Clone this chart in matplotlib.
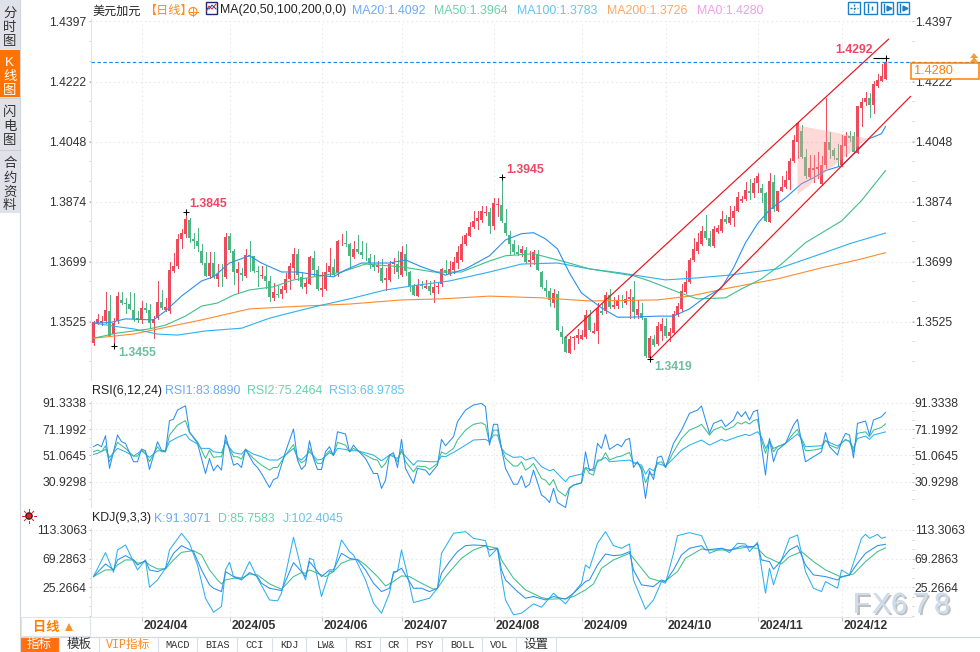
import numpy as np
import matplotlib
matplotlib.use("Agg")
import matplotlib.pyplot as plt
import matplotlib.patheffects as pe
from matplotlib.patches import Rectangle, Polygon, Circle
from matplotlib.transforms import ScaledTranslation

FONT = ['Liberation Sans', 'Noto Sans CJK SC', 'DejaVu Sans']
plt.rcParams['font.family'] = FONT

# ---------- candles (prices x 10^4, one entry per trading day) ----------
opens = [
 13465,13523,13522,13528,13557,13489,13528,13589,13581,13578,
 13560,13536,13535,13565,13560,13523,13538,13583,13561,13557,
 13673,13686,13767,13780,13822,13767,13761,13732,13695,13658,
 13697,13651,13658,13656,13773,13732,13668,13668,13659,13718,
 13716,13672,13659,13659,13644,13596,13606,13607,13618,13650,
 13682,13723,13656,13627,13636,13711,13676,13618,13621,13670,
 13685,13668,13750,13755,13752,13714,13737,13728,13717,13711,
 13693,13685,13682,13647,13647,13693,13693,13661,13723,13670,
 13629,13600,13632,13624,13629,13609,13627,13636,13676,13664,
 13675,13696,13705,13752,13775,13801,13818,13821,13841,13845,
 13804,13865,13865,13813,13778,13752,13728,13725,13734,13699,
 13705,13723,13670,13624,13615,13580,13606,13496,13481,13435,
 13478,13478,13476,13481,13545,13494,13498,13557,13557,13603,
 13568,13571,13584,13579,13591,13598,13545,13550,13536,13421,
 13477,13460,13499,13512,13484,13493,13545,13562,13613,13641,
 13704,13731,13751,13789,13768,13745,13786,13789,13823,13813,
 13826,13848,13875,13881,13906,13898,13927,13914,13898,13816,
 13930,13848,13906,13917,13938,13993,14048,14080,14004,13946,
 13967,13969,13926,13981,14048,14024,14002,13981,14034,14063,
 14063,14016,14145,14164,14176,14153,14208,14225,14231]
closes = [
 13526,13534,13528,13560,13485,13523,13601,13581,13576,13564,
 13533,13530,13565,13559,13523,13533,13583,13567,13569,13675,
 13686,13767,13783,13825,13770,13761,13744,13695,13659,13697,
 13656,13663,13657,13772,13734,13671,13679,13660,13720,13716,
 13672,13669,13660,13644,13598,13613,13603,13621,13650,13688,
 13723,13661,13627,13639,13714,13676,13621,13624,13670,13688,
 13662,13760,13752,13752,13717,13737,13728,13720,13715,13696,
 13685,13690,13644,13653,13693,13699,13670,13728,13673,13629,
 13603,13632,13630,13629,13615,13627,13629,13679,13668,13679,
 13700,13728,13752,13778,13801,13818,13827,13848,13844,13804,
 13871,13868,13818,13784,13752,13728,13722,13737,13699,13705,
 13728,13676,13627,13615,13589,13609,13502,13481,13438,13475,
 13481,13487,13487,13545,13501,13499,13566,13551,13603,13568,
 13574,13586,13582,13591,13598,13555,13562,13536,13426,13479,
 13458,13513,13520,13484,13495,13547,13571,13615,13641,13704,
 13736,13756,13789,13768,13746,13796,13797,13823,13814,13830,
 13848,13888,13881,13909,13900,13929,13949,13898,13818,13935,
 13852,13906,13917,13938,13993,14054,14102,14004,13949,13971,
 13973,13975,13981,14048,14025,14007,13995,14039,14063,14059,
 14017,14150,14164,14176,14153,14214,14228,14237,14280]
highs = [
 13528,13548,13543,13611,13603,13538,13613,13611,13596,13611,
 13609,13557,13586,13581,13577,13543,13644,13617,13596,13700,
 13724,13780,13795,13845,13826,13782,13799,13751,13727,13727,
 13727,13693,13693,13782,13782,13738,13698,13683,13736,13761,
 13717,13688,13688,13688,13659,13639,13630,13630,13668,13695,
 13740,13736,13668,13654,13717,13731,13688,13670,13696,13740,
 13708,13763,13781,13789,13755,13760,13778,13760,13755,13722,
 13720,13702,13708,13683,13702,13711,13731,13746,13752,13673,
 13636,13649,13644,13648,13644,13646,13639,13681,13705,13702,
 13714,13746,13773,13784,13814,13848,13848,13862,13862,13855,
 13884,13884,13945,13853,13789,13763,13749,13745,13743,13731,
 13733,13733,13673,13646,13623,13620,13615,13513,13482,13484,
 13484,13506,13501,13559,13559,13523,13579,13576,13613,13620,
 13598,13603,13603,13615,13620,13644,13588,13581,13537,13484,
 13487,13526,13537,13537,13508,13557,13581,13634,13673,13712,
 13770,13783,13804,13836,13789,13804,13807,13848,13836,13862,
 13862,13901,13891,13930,13940,13943,13956,13925,13901,13957,
 13952,13906,13949,13964,14002,14066,14106,14095,14027,14010,
 14010,14017,14005,14174,14077,14030,14041,14066,14075,14080,
 14075,14151,14174,14191,14190,14223,14243,14272,14292]
lows = [
 13458,13518,13517,13523,13485,13455,13523,13577,13552,13562,
 13528,13526,13523,13555,13509,13478,13533,13562,13557,13552,
 13669,13683,13741,13772,13758,13741,13732,13693,13659,13652,
 13652,13630,13630,13652,13727,13635,13608,13647,13656,13673,
 13669,13630,13654,13625,13586,13589,13598,13596,13613,13620,
 13654,13646,13625,13610,13634,13661,13618,13600,13618,13661,
 13661,13659,13749,13746,13683,13710,13726,13710,13704,13683,
 13677,13671,13642,13617,13644,13668,13654,13659,13661,13615,
 13602,13600,13623,13623,13605,13584,13610,13629,13663,13661,
 13668,13683,13702,13749,13773,13797,13794,13814,13836,13784,
 13794,13833,13814,13778,13720,13722,13720,13717,13697,13688,
 13693,13675,13625,13600,13571,13568,13501,13463,13437,13435,
 13447,13465,13475,13479,13499,13494,13463,13547,13552,13566,
 13565,13566,13568,13576,13537,13536,13537,13533,13424,13419,
 13455,13458,13472,13481,13470,13491,13542,13557,13610,13638,
 13702,13726,13749,13765,13746,13743,13784,13787,13812,13809,
 13804,13846,13872,13880,13881,13888,13901,13874,13818,13816,
 13848,13848,13904,13915,13911,13990,14002,14002,13944,13944,
 13930,13944,13923,13973,14002,13998,13978,13978,14007,14051,
 14014,14014,14092,14153,14119,14130,14206,14223,14230]

# ---------- moving averages (day index, price x 10^4) ----------
ma20_day = [0,4,8,15,18,22,27,30,34,39,42,47,51,56,60,63,67,74,78,82,85,88,93,99,103,107,110,113,116,119,122,127,131,134,141,145,149,152,157,160,163,166,169,173,177,180,183,187,191,194,197,198]
ma20_val = [13522,13523,13534,13531,13557,13600,13644,13656,13696,13717,13696,13670,13670,13661,13656,13676,13696,13696,13705,13685,13673,13661,13679,13717,13763,13781,13784,13766,13737,13667,13609,13566,13539,13539,13542,13542,13563,13589,13624,13682,13755,13810,13850,13885,13926,13943,13964,13978,14022,14057,14071,14092]
ma50_day = [0,6,14,18,23,27,31,35,39,45,50,57,62,68,77,85,92,99,103,110,118,124,135,139,146,151,158,162,167,172,178,187,192,198]
ma50_val = [13478,13493,13505,13516,13542,13571,13580,13603,13618,13627,13647,13659,13670,13693,13685,13670,13670,13702,13717,13723,13699,13679,13659,13644,13612,13592,13595,13621,13650,13693,13755,13818,13877,13964]
ma100_day = [0,5,10,16,21,28,37,44,49,56,64,73,81,89,99,107,116,124,132,143,151,159,171,182,189,198]
ma100_val = [13522,13513,13505,13490,13487,13499,13507,13536,13551,13571,13592,13618,13632,13644,13670,13693,13696,13679,13667,13647,13653,13661,13679,13723,13752,13783]
ma200_day = [0,10,17,27,39,52,64,77,87,99,112,124,141,149,159,171,182,191,198]
ma200_val = [13478,13490,13507,13531,13563,13571,13577,13589,13592,13600,13595,13586,13589,13600,13624,13650,13682,13705,13726]

# ---------- RSI ----------
rsi1_day = [0,1,2,3,4,6,7,8,10,11,12,13,14,16,17,18,19,20,21,23,24,26,27,28,29,30,31,32,33,35,36,37,38,40,41,42,44,45,46,48,50,51,52,53,54,55,56,57,58,59,60,61,63,64,65,66,68,70,71,72,73,74,75,76,77,78,80,81,83,84,86,87,88,90,91,93,95,97,98,99,
 100,101,102,103,105,106,107,108,109,110,112,113,114,115,116,118,119,120,122,123,124,125,126,127,128,129,131,132,133,134,135,136,137,138,139,140,141,142,143,145,147,149,151,152,154,155,157,158,160,161,162,163,164,165,166,167,168,169,170,171,173,175,176,177,178,180,182,183,184,186,187,188,189,190,191,193,194,195,197,198]
rsi1_val = [57.7,59.5,57.7,66.1,41.1,66.6,61.5,60.2,46.2,46.2,55.9,54.6,40.3,61.5,55.1,53.8,77.6,78.6,85.7,89.0,69.1,60.2,48.7,37.2,48.7,39.3,43.6,39.8,66.6,43.6,44.9,41.8,55.9,44.9,41.8,37.2,26.5,32.6,33.9,53.8,71.2,47.5,40.3,43.6,62.3,48.7,40.3,40.3,53.8,57.7,50.8,69.1,67.4,53.8,58.9,55.1,48.7,37.2,37.2,25.8,32.1,51.3,53.1,41.8,63.3,41.1,29.6,41.1,39.8,36.0,43.6,63.3,58.4,65.3,76.8,85.7,89.6,90.8,88.3,58.9,
 74.8,74.8,56.4,41.1,29.0,29.0,35.5,26.5,29.0,39.8,20.7,18.6,15.0,25.8,15.0,11.2,25.8,28.3,30.1,53.8,39.3,41.1,60.2,56.4,67.1,55.6,59.7,57.7,62.8,64.0,41.8,46.2,39.8,18.1,39.3,32.6,49.5,50.5,41.8,60.2,70.4,83.2,85.7,88.8,67.9,75.5,78.1,73.0,78.1,84.5,80.6,84.5,78.1,84.5,85.7,57.7,36.0,64.0,46.2,55.1,60.2,74.2,78.6,61.5,46.2,50.0,53.8,68.6,57.7,51.3,61.5,67.9,66.6,49.2,75.5,77.3,66.6,78.1,80.6,83.9]
rsi2_day = [0,1,2,3,4,6,8,10,11,12,13,14,16,17,18,19,20,21,23,24,26,27,28,29,30,31,32,33,35,36,37,38,40,41,42,44,45,46,48,50,51,52,53,54,55,56,57,58,59,60,61,63,64,65,66,68,70,71,72,73,74,75,76,77,78,80,81,83,84,86,87,88,90,91,93,95,97,98,99,
 100,101,102,103,105,106,107,108,109,110,112,113,114,115,116,118,119,120,122,123,124,125,126,127,128,129,131,132,133,134,135,136,137,138,139,140,141,142,143,145,147,149,151,152,154,155,157,158,160,161,162,163,164,165,166,167,168,169,170,171,173,175,176,177,178,180,182,183,184,186,187,188,189,190,191,193,194,195,197,198]
rsi2_val = [53.8,55.1,53.8,58.4,46.2,61.0,56.4,50.5,50.5,55.1,53.1,46.2,57.7,53.8,53.8,66.6,70.4,74.2,77.6,68.4,61.5,55.1,48.7,55.1,49.5,50.0,50.0,62.8,50.0,50.0,48.2,55.1,48.7,46.2,43.6,39.8,41.8,41.8,51.3,59.4,48.7,45.4,47.5,56.4,49.5,44.9,44.9,51.3,54.6,51.3,61.0,58.9,53.8,56.4,54.6,51.3,48.0,47.5,41.6,44.9,51.3,51.3,46.2,55.6,46.2,38.5,42.9,42.4,40.3,44.9,53.8,52.0,56.4,62.8,70.4,74.8,76.0,74.2,60.7,
 70.4,70.4,56.4,48.7,42.9,42.9,46.2,39.8,41.8,44.9,33.4,32.1,28.3,32.6,24.5,19.9,26.5,28.3,30.1,41.8,37.2,36.0,47.5,47.5,53.1,47.5,50.0,50.5,52.0,53.3,44.9,45.4,41.8,30.1,37.2,36.0,45.4,46.2,41.8,53.8,64.0,70.4,73.0,74.8,66.6,70.4,73.0,70.4,73.0,76.3,75.0,76.8,75.0,77.6,78.6,62.8,52.6,62.8,53.8,57.7,60.2,67.9,70.9,62.8,54.6,55.1,56.4,62.8,58.9,56.4,60.2,63.3,61.5,53.8,67.9,69.1,65.3,70.4,72.5,75.2]
rsi3_day = [0,1,3,4,6,8,10,12,14,16,18,19,21,23,24,26,27,29,30,32,33,35,37,38,40,42,44,46,48,50,51,52,54,56,57,59,60,61,63,64,66,70,72,74,76,77,80,81,84,86,87,88,91,93,95,98,99,
 100,101,102,103,105,107,108,110,112,114,115,118,119,122,123,125,126,128,129,134,135,137,138,139,140,141,143,145,147,149,152,154,157,158,161,163,164,166,167,168,169,170,173,176,177,178,182,183,186,188,189,190,191,193,194,195,198]
rsi3_val = [51.8,52.6,55.6,49.5,56.4,53.8,50.5,54.6,49.5,54.6,54.6,61.5,64.8,67.4,63.3,59.7,56.4,56.4,53.8,53.1,61.0,53.1,52.0,55.6,52.0,50.0,47.5,47.5,51.3,56.4,49.5,47.5,53.8,47.5,48.0,53.1,51.3,56.4,55.6,54.6,54.6,51.3,46.9,51.3,48.7,53.8,43.6,46.9,46.2,46.2,50.5,50.0,55.1,58.9,62.8,63.3,61.5,
 66.6,66.6,56.4,52.6,49.5,50.0,47.5,49.5,42.4,39.3,40.3,30.9,34.7,36.7,41.8,39.3,46.2,49.5,46.2,47.5,45.7,43.6,36.7,41.1,39.3,44.9,42.9,48.7,55.1,58.9,62.8,58.9,63.3,62.0,65.3,67.1,66.1,69.1,65.3,56.4,61.5,56.4,60.2,67.4,64.0,57.7,58.4,62.3,58.2,62.8,62.0,56.4,64.0,65.8,63.3,66.6,69.0]

# ---------- KDJ ----------
k_day = [0,3,5,6,8,10,11,13,14,16,18,20,22,25,27,29,30,32,33,35,37,39,41,42,44,47,50,52,53,54,55,57,59,60,62,64,66,68,70,72,74,75,77,80,82,84,86,87,89,91,93,95,98,99,
 101,102,103,106,108,110,113,115,118,120,123,124,126,128,130,132,134,135,137,140,142,143,145,147,149,152,153,157,159,162,165,166,167,169,170,171,174,176,178,180,183,186,187,189,191,193,196,198]
k_val = [41.7,61.2,52.0,67.3,73.9,67.3,59.6,66.3,52.0,49.4,54.5,77.5,89.3,80.1,52.0,29.0,23.8,18.7,49.4,41.7,36.6,47.9,41.7,31.5,23.8,20.3,63.2,49.4,41.7,64.7,57.1,41.7,52.0,52.0,77.5,69.9,67.3,52.0,31.5,18.7,23.8,46.8,54.5,23.8,23.8,18.7,23.8,46.8,64.7,80.1,89.3,90.3,89.3,82.6,
 85.2,52.0,36.6,18.7,8.5,11.1,5.9,11.1,7.0,16.2,34.1,36.6,59.6,76.5,73.9,75.0,80.1,52.0,29.0,26.4,36.6,34.1,52.0,75.0,85.2,89.3,82.6,85.2,81.6,88.8,87.8,91.8,67.3,64.7,53.0,59.6,82.6,89.3,59.6,44.3,41.7,36.6,41.7,44.3,62.2,77.5,89.3,91.3]
d_day = [0,3,5,6,8,10,11,13,14,16,18,20,22,25,27,29,31,32,33,35,37,39,41,44,47,50,52,53,54,55,58,60,62,64,66,68,71,73,75,77,79,82,85,86,88,92,95,98,99,
 101,102,105,108,112,114,118,120,123,125,127,130,134,136,139,142,143,146,148,152,154,159,163,166,168,172,174,177,180,183,187,190,193,196,198]
d_val = [41.7,52.0,52.0,59.6,67.3,67.3,62.2,64.7,59.6,53.5,53.5,67.3,79.0,81.6,75.0,52.0,36.6,30.5,36.6,39.2,39.2,45.8,44.3,30.5,22.3,41.7,47.9,46.8,52.0,49.4,41.7,49.4,62.2,67.3,68.3,59.6,41.7,27.4,34.1,42.8,41.7,31.5,22.3,23.8,41.7,69.9,82.6,89.3,87.8,
 85.2,67.3,39.2,21.3,9.5,7.0,8.0,11.1,21.3,30.5,54.5,67.3,77.5,62.2,39.2,34.1,35.1,49.4,69.9,84.2,82.6,82.6,86.7,85.2,72.4,61.2,72.4,80.1,64.7,52.0,40.7,45.8,64.7,80.1,85.8]
j_day = [0,3,5,6,8,10,11,13,14,16,18,19,22,24,26,28,30,32,33,34,35,37,39,41,44,46,47,50,52,53,54,55,57,59,60,62,64,65,68,70,72,74,75,76,77,78,80,84,86,87,90,93,95,98,99,
 101,102,103,105,107,110,112,115,118,120,122,123,124,126,128,130,132,134,135,138,140,142,143,145,146,149,152,154,157,159,161,163,164,166,168,169,170,172,174,176,178,180,182,183,186,187,189,192,193,194,196,197,198]
j_val = [41.7,78.6,48.4,82.6,90.3,64.7,52.0,67.3,25.4,36.6,54.5,82.6,108.2,92.9,59.6,8.5,-13.0,-4.3,52.0,63.7,41.7,39.2,64.7,39.2,5.9,4.4,16.2,102.1,52.0,36.6,69.9,67.3,11.1,49.4,49.4,98.0,80.1,75.0,36.6,0.8,-14.5,16.2,49.4,49.4,82.6,57.1,1.8,8.5,23.8,77.5,108.2,110.8,100.5,97.0,72.4,
 85.2,41.7,5.9,-17.0,-14.5,-0.2,-5.3,16.2,-0.2,16.2,31.5,59.6,54.5,92.9,110.8,89.3,85.2,91.8,36.6,-8.4,5.9,34.1,31.5,77.5,104.6,109.2,104.6,77.5,85.2,78.6,92.9,91.8,80.1,94.4,16.2,54.5,29.0,67.3,100.5,105.6,49.4,23.8,18.7,34.1,23.8,52.0,44.3,100.5,106.6,100.5,106.6,100.5,102.4]

# ---------- axes labels ----------
price_ticks = [1.4397, 1.4222, 1.4048, 1.3874, 1.3699, 1.3525]
rsi_ticks = [91.3338, 71.1992, 51.0645, 30.9298]
kdj_ticks = [113.3063, 69.2863, 25.2664]
month_days = [12, 34, 57, 77, 100, 122, 143, 166, 187]
month_labels = ['2024/04','2024/05','2024/06','2024/07','2024/08','2024/09','2024/10','2024/11','2024/12']
last_close = 1.4280

# extreme price marks: day, price, label, colour, offset
extremes = [(5, 1.3455, '1.3455', '#6dbe9b', (5, -7), 'left'),
            (23, 1.3845, '1.3845', '#ee4663', (4, 8), 'left'),
            (102, 1.3945, '1.3945', '#ee4663', (5, 7), 'left'),
            (139, 1.3419, '1.3419', '#6dbe9b', (5, -8), 'left'),
            (198, 1.4292, '1.4292', '#ee4663', (-13, 8), 'right')]

# channel and triangle drawn on the chart (day, price)
chan_top_day, chan_top_price = [118, 198.75], [1.3481, 1.4345]
chan_bot_day, chan_bot_price = [139.25, 204.25], [1.3419, 1.4179]
tri_day, tri_price = [176, 193.5, 176], [1.4095, 1.4057, 1.3894]

RED, GREEN = '#ee4a5c', '#4cb785'
C_MA20, C_MA50, C_MA100, C_MA200 = '#2b8ff0', '#3fbf8a', '#2cb0ee', '#ff8a30'
C_TXT = '#333333'
GRID = '#e9e9e9'

W, H = 980, 652
fig = plt.figure(figsize=(W/100, H/100), dpi=100, facecolor='white')

def px_axes(l, t, r, b, **kw):
    return fig.add_axes([l/W, 1-b/H, (r-l)/W, (b-t)/H], **kw)

L, R = 91, 912
X0, PX = 93.5, 4.0
xlim = ((L-X0)/PX, (R-X0)/PX)

def style(ax, ticks, labels, minor_step):
    ax.set_xlim(*xlim)
    ax.set_facecolor('white')
    for s in ax.spines.values():
        s.set_visible(False)
    lo, hi = ax.get_ylim()
    ax.spines['left'].set_visible(True)
    ax.spines['left'].set_color('#e3e3e3')
    ax.spines['left'].set_linewidth(0.8)
    ax.spines['left'].set_bounds(lo, ticks[0] + (hi-ticks[0])*0.1)
    ax.set_xticks([])
    ax.set_yticks(ticks)
    ax.set_yticklabels(labels)
    ax.tick_params(axis='y', which='major', left=True, right=True, labelleft=True, labelright=True,
                   length=1.6, width=0.7, color='#b8b8b8', pad=0.4, labelsize=8.8, labelcolor=C_TXT)
    for tk in ax.yaxis.get_major_ticks():
        tk.label1.set_transform(tk.label1.get_transform() + ScaledTranslation(-1.2/72, 0, fig.dpi_scale_trans))
    m = np.arange(ticks[0], lo, -minor_step)
    ax.set_yticks(m, minor=True)
    ax.tick_params(axis='y', which='minor', left=True, right=True, length=1.1, width=0.7, color='#cfcfcf')
    ax.hlines(ticks, xlim[0], xlim[1], colors=GRID, linewidth=0.8, linestyles=(0, (1.5, 2.5)), zorder=0)

# ---------- price panel ----------
P_TOP, P_BOT = 0, 381
scale = 0.0174 / 60.0
Y0 = 21.3
ax = px_axes(L, P_TOP, R, P_BOT)
ax.set_ylim(1.4397 - (P_BOT-Y0)*scale, 1.4397 + (Y0-P_TOP)*scale)
style(ax, price_ticks, [f'{v:.4f}' for v in price_ticks], 0.0174/3)
ax.vlines(month_days, ax.get_ylim()[0], 1.4397, colors=GRID, linewidth=0.8, linestyles=(0, (1.5, 2.5)), zorder=0)

o, c, h, l = [np.array(a)/1e4 for a in (opens, closes, highs, lows)]
days = np.arange(len(o))
up = c >= o
colors = np.where(up, RED, GREEN)
ax.vlines(days, l, h, colors=list(colors), linewidth=0.72, zorder=2, antialiased=False)
body_low = np.minimum(o, c)
body_h = np.maximum(np.abs(c-o), 0.00015)
ax.bar(days, body_h, bottom=body_low, width=0.8, color=list(colors), linewidth=0, zorder=3)

for d, v, col in ((ma200_day, ma200_val, C_MA200), (ma100_day, ma100_val, C_MA100),
                  (ma50_day, ma50_val, C_MA50), (ma20_day, ma20_val, C_MA20)):
    ax.plot(d, np.array(v)/1e4, color=col, linewidth=0.8, zorder=4)

ax.plot(chan_top_day, chan_top_price, color='#e8141c', linewidth=0.85, zorder=5)
ax.plot(chan_bot_day, chan_bot_price, color='#e8141c', linewidth=0.85, zorder=5)
ax.add_patch(Polygon(np.column_stack([tri_day, tri_price]), closed=True, facecolor='#ff9a9a',
                     alpha=0.38, edgecolor='none', zorder=6))

axis_end = (W - X0) / PX
ax.plot([xlim[0], axis_end], [last_close, last_close], color='#1e88f0', linewidth=0.85,
        linestyle=(0, (3, 2)), clip_on=False, zorder=7)

for d, v, txt, col, off, ha in extremes:
    ax.plot([d], [v], marker='+', color='black', markersize=5, markeredgewidth=0.75, zorder=8)
    ax.annotate(txt, (d, v), xytext=off, textcoords='offset pixels', color=col, fontsize=8.8,
                fontweight='bold', ha=ha, va='center', zorder=8)
ax.hlines(extremes[-1][1], extremes[-1][0]-3.2, extremes[-1][0], colors='black', linewidth=0.8, zorder=8)

# ---------- RSI panel ----------
axr = px_axes(L, 381, R, 508)
rs = (rsi_ticks[0]-rsi_ticks[3]) / (481.7-402.7)
axr.set_ylim(rsi_ticks[0] - (508-402.7)*rs, rsi_ticks[0] + (402.7-381)*rs)
style(axr, rsi_ticks, [f'{v:.4f}' for v in rsi_ticks], (rsi_ticks[0]-rsi_ticks[1])/3)
axr.vlines(month_days, axr.get_ylim()[0], rsi_ticks[0], colors=GRID, linewidth=0.8, linestyles=(0, (1.5, 2.5)), zorder=0)
axr.plot(rsi3_day, rsi3_val, color=C_MA100, linewidth=0.75, zorder=3)
axr.plot(rsi2_day, rsi2_val, color=C_MA50, linewidth=0.75, zorder=4)
axr.plot(rsi1_day, rsi1_val, color=C_MA20, linewidth=0.75, zorder=5)

# ---------- KDJ panel ----------
axk = px_axes(L, 508, R, 617)
ks = (kdj_ticks[0]-kdj_ticks[2]) / (587.3-530.0)
axk.set_ylim(kdj_ticks[0] - (617-530)*ks, kdj_ticks[0] + (530-508)*ks)
style(axk, kdj_ticks, [f'{v:.4f}' for v in kdj_ticks], (kdj_ticks[0]-kdj_ticks[1])/3)
axk.vlines(month_days, axk.get_ylim()[0], kdj_ticks[0], colors=GRID, linewidth=0.8, linestyles=(0, (1.5, 2.5)), zorder=0)
axk.plot(j_day, j_val, color=C_MA100, linewidth=0.75, zorder=3)
axk.plot(d_day, d_val, color=C_MA50, linewidth=0.75, zorder=4)
axk.plot(k_day, k_val, color=C_MA20, linewidth=0.75, zorder=5)

# ---------- date axis ----------
axd = px_axes(L, 617, R, 636)
axd.set_xlim(*xlim); axd.set_ylim(1, 0)
axd.set_yticks([]); axd.set_xticks(month_days); axd.set_xticklabels([])
for s in axd.spines.values():
    s.set_visible(False)
axd.spines['top'].set_visible(True); axd.spines['top'].set_color('#e4e8ee'); axd.spines['top'].set_linewidth(0.8)
axd.xaxis.tick_top()
axd.tick_params(axis='x', direction='in', length=3, width=0.7, color='#bcbcbc', top=True, bottom=False)
for d, t in zip(month_days, month_labels):
    axd.annotate(t, (d, 0.45), xytext=(2, 0), textcoords='offset pixels', color='#333333', fontsize=8.8,
                 fontweight='bold', ha='left', va='center')

# ---------- overlay: window furniture, header texts ----------
ui = fig.add_axes([0, 0, 1, 1], facecolor='none', zorder=10)
ui.set_xlim(0, W); ui.set_ylim(H, 0); ui.axis('off')

def T(x, y, s, color='#222222', size=8.8, ha='left', va='center', **kw):
    return ui.text(x, y, s, color=color, fontsize=size, ha=ha, va=va, **kw)

def R_(x, y, w, h, fc='none', ec='none', lw=0.8, **kw):
    ui.add_patch(Rectangle((x, y), w, h, facecolor=fc, edgecolor=ec, linewidth=lw, **kw))

# side bar
R_(0, 0, 19.5, 213, fc='#e0e2ea')
R_(0, 50, 19.5, 47, fc='#ff7200')
ui.plot([19.5, 19.5], [0, 652], color='#cfd6e0', lw=0.8)
ui.plot([0, 19.5], [98, 98], color='#c8c8d0', lw=0.6)
ui.plot([0, 19.5], [149.5, 149.5], color='#c8c8d0', lw=0.6)
for txt, ys, col in (('分时图', (13, 27, 41), '#333333'), ('K线图', (62, 76, 90), 'white'),
                     ('闪电图', (112, 126, 140), '#333333'), ('合约资料', (163, 178, 192, 205), '#333333')):
    for ch, y in zip(txt, ys):
        T(9.7, y+0.8, ch, color=col, size=9.6, ha='center')

# header row
HY = 11.3
T(92, HY, '美元加元', size=8.7)
T(145, HY, '【日线】', color='#ff8a1e', size=8.7)
ui.add_patch(Circle((193, 11.5), 4, facecolor='none', edgecolor='#ff8a1e', linewidth=0.8))
ui.plot([188.5, 197.5], [11.5, 11.5], color='#ff8a1e', lw=0.7)
ui.plot([193, 193], [7, 16], color='#ff8a1e', lw=0.7)
R_(205.5, 1.5, 11.5, 12, fc='white', ec='#1b2a6b', lw=1.0)
ui.plot([206.5, 209, 212, 216], [11, 6, 9, 4], color='#e02020', lw=0.7)
ui.plot([206.5, 209, 212, 216], [8, 9, 5, 9], color='#1c3fbf', lw=0.7)
T(220, HY-0.8, 'MA(20,50,100,200,0,0)', size=8.9)
T(352, HY-0.8, 'MA20:1.4092', color='#6ea9f7', size=8.9)
T(434, HY-0.8, 'MA50:1.3964', color='#66d3a8', size=8.9)
T(517, HY-0.8, 'MA100:1.3783', color='#66c3ee', size=8.9)
T(607, HY-0.8, 'MA200:1.3726', color='#ffa766', size=8.9)
T(697, HY-0.8, 'MA0:1.4280', color='#eda0e6', size=8.9)

# tool buttons
for bx in (847.5, 864, 880.5, 896.5):
    R_(bx, 1.5, 12.5, 12.5, fc='white', ec='#1d7fc4', lw=1.0)
ui.plot([850, 857.5], [7.7, 7.7], color='#1d7fc4', lw=1.0, linestyle=(0, (1.5, 1)))
ui.plot([853.7, 853.7], [4, 11.5], color='#1d7fc4', lw=1.0, linestyle=(0, (1.5, 1)))
for bx, mk in ((866, '|'), (882.5, '>'), (898.5, '>')):
    ui.plot([bx+1.5, bx+1.5], [4, 12], color='#1d7fc4', lw=1.0)
    ui.plot([bx+6], [8], marker=mk, color='#1d7fc4', markersize=3.5)

# price tag on the right
R_(910.5, 62.5, 68, 16.5, fc='white', ec='#ff8000', lw=1.1)
T(914, 71, f'{last_close:.4f}', color='#ff8000', size=9.2)
ui.add_patch(Polygon([[970, 62], [978, 62], [974, 57]], closed=True, facecolor='#ff9a30', edgecolor='none'))
ui.add_patch(Polygon([[970, 58], [978, 58], [974, 53]], closed=True, facecolor='#ff9a30', edgecolor='none'))

# indicator headers
T(92, 391, 'RSI(6,12,24)', size=8.9)
T(165, 391, 'RSI1:83.8890', color='#6ea9f7', size=8.9)
T(247, 391, 'RSI2:75.2464', color='#66d3a8', size=8.9)
T(329, 391, 'RSI3:68.9785', color='#66c3ee', size=8.9)
T(92, 518.5, 'KDJ(9,3,3)', size=8.9)
T(154, 518.5, 'K:91.3071', color='#6ea9f7', size=8.9)
T(218, 518.5, 'D:85.7583', color='#66d3a8', size=8.9)
T(283, 518.5, 'J:102.4045', color='#66c3ee', size=8.9)
ui.add_patch(Circle((29, 516), 3.2, facecolor='#e02020', edgecolor='#111111', linewidth=0.8))
for a in np.linspace(0, 2*np.pi, 8, endpoint=False):
    ui.plot([29+4.6*np.cos(a), 29+6.6*np.cos(a)], [516+4.6*np.sin(a), 516+6.6*np.sin(a)], color='#e02020', lw=0.7)

# period selector
R_(20.5, 617, 69.5, 19, fc='white', ec='#dfe3ea', lw=0.8)
T(46.5, 627.5, '日线', color='#ff8000', size=9.5, ha='center', fontweight='bold')
ui.add_patch(Polygon([[65, 631], [73, 631], [69, 623]], closed=True, facecolor='#ff9020', edgecolor='none'))

# tab bar
ui.plot([20, 980], [636.5, 636.5], color='#cfd6e0', lw=0.8)
ui.plot([20, 980], [651.5, 651.5], color='#cfd6e0', lw=0.8)
R_(20, 637, 39, 14.5, fc='#ff6f10')
tab_edges = [59, 99, 158, 197, 237, 272, 306, 346, 380, 407, 442, 482, 516, 556]
for e in tab_edges:
    ui.plot([e, e], [637, 651], color='#dbe0e8', lw=0.8)
T(39.5, 645, '指标', color='white', size=9, ha='center')
T(79, 645, '模板', color='#333333', size=9, ha='center')
T(128.5, 645, 'VIP指标', color='#ff8a1e', size=8.4, ha='center', family=['Liberation Mono', 'Noto Sans CJK SC'])
for (a, b), s in zip(zip(tab_edges[2:], tab_edges[3:]),
                     ['MACD', 'BIAS', 'CCI', 'KDJ', 'LW&', 'RSI', 'CR', 'PSY', 'BOLL', 'VOL']):
    T((a+b)/2, 645, s, color='#333333', size=7.4, ha='center', family=['Liberation Mono'])
T(536, 645, '设置', color='#333333', size=9, ha='center')

# watermark
shadow = [pe.withSimplePatchShadow(offset=(1.3, -1.5), shadow_rgbFace='#8c8c8c', alpha=0.55), pe.Normal()]
for ch, x in zip('FX678', (853, 872, 891, 913, 934)):
    t = T(x, 605, ch, color='#cfdcee', size=21, alpha=0.95)
    t.set_path_effects(shadow)

fig.savefig('out.png', dpi=100)
